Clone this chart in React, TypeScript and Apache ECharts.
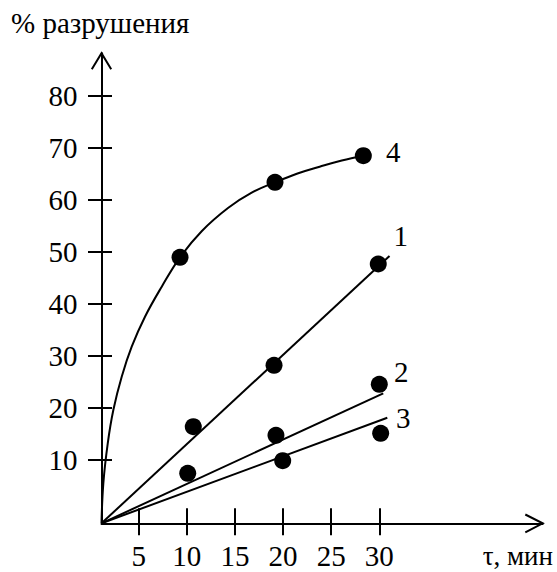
import React, { useEffect, useRef } from "react";
import * as echarts from "echarts";

// Axis ranges (the drawn axes cross slightly off the (0,0) point of the scale)
const X_ORIGIN = 1.13;
const Y_ORIGIN = -2.16;
const X_END = 46.98;
const Y_END = 88.2;

const xTickValues = [5, 10, 15, 20, 25, 30];
const yTickValues = [10, 20, 30, 40, 50, 60, 70, 80];

// Measured points (τ, % разрушения)
const points1 = [
  [10.67, 16.41],
  [19.06, 28.22],
  [29.89, 47.69],
];
const points2 = [
  [10.09, 7.45],
  [19.26, 14.76],
  [30.0, 24.56],
];
const points3 = [
  [19.96, 9.87],
  [30.14, 15.14],
];
const points4 = [
  [9.29, 48.98],
  [19.16, 63.4],
  [28.34, 68.52],
];

// Fitted lines (from the origin of the axes to their ends)
const line1 = [
  [X_ORIGIN, Y_ORIGIN],
  [31.06, 49.23],
];
const line2 = [
  [X_ORIGIN, Y_ORIGIN],
  [30.41, 22.83],
];
const line3 = [
  [X_ORIGIN, Y_ORIGIN],
  [30.83, 18.14],
];
// Curve 4
const curve4 = [
  [X_ORIGIN, Y_ORIGIN],
  [1.32, 5.53],
  [1.78, 13.22],
  [2.36, 19.62],
  [3.23, 26.02],
  [4.27, 31.79],
  [5.65, 37.56],
  [7.39, 43.33],
  [9.29, 48.98],
  [11.54, 54.0],
  [14.31, 58.5],
  [16.74, 61.4],
  [19.16, 63.4],
  [21.5, 65.1],
  [23.8, 66.4],
  [26.1, 67.6],
  [28.34, 68.52],
];

const curveNames = ["1", "2", "3", "4"];

const FONT = "'Times New Roman', 'Liberation Serif', 'DejaVu Serif', serif";
const FS = 29;

export default function App() {
  const ref = useRef<HTMLDivElement>(null);

  useEffect(() => {
    if (!ref.current) return;
    const chart = echarts.init(ref.current, undefined, { renderer: "svg" });

    const lineSeries = (name: string, data: number[][], smooth: any) => ({
      name,
      type: "line",
      data,
      smooth,
      showSymbol: false,
      symbol: "none",
      lineStyle: { color: "#000", width: 2 },
      z: 2,
      silent: true,
    });
    const dotSeries = (name: string, data: number[][]) => ({
      name,
      type: "scatter",
      data,
      symbol: "circle",
      symbolSize: 17,
      itemStyle: { color: "#000", opacity: 1 },
      z: 3,
      silent: true,
    });

    const textStyle = { fontFamily: FONT, fontSize: FS, fill: "#000" };

    chart.setOption({
      animation: false,
      backgroundColor: "#fff",
      textStyle: { fontFamily: FONT },
      grid: { left: 101.5, right: 14.3, top: 53.3, bottom: 48.7 },
      xAxis: [
        {
          type: "value",
          position: "bottom",
          min: X_ORIGIN,
          max: X_END,
          splitLine: { show: false },
          axisLine: { show: true, onZero: false, lineStyle: { color: "#000", width: 2 } },
          axisTick: {
            show: true,
            customValues: xTickValues,
            length: 12,
            lineStyle: { color: "#000", width: 2 },
          },
          axisLabel: {
            customValues: xTickValues,
            margin: 18,
            color: "#000",
            fontFamily: FONT,
            fontSize: FS,
          },
        },
        {
          type: "value",
          position: "bottom",
          min: X_ORIGIN,
          max: X_END,
          splitLine: { show: false },
          axisLine: { show: false, onZero: false },
          axisTick: {
            show: true,
            inside: true,
            customValues: xTickValues,
            length: 15,
            lineStyle: { color: "#000", width: 2 },
          },
          axisLabel: { show: false },
        },
      ],
      yAxis: [
        {
          type: "value",
          position: "left",
          min: Y_ORIGIN,
          max: Y_END,
          splitLine: { show: false },
          axisLine: { show: true, onZero: false, lineStyle: { color: "#000", width: 2 } },
          axisTick: {
            show: true,
            customValues: yTickValues,
            length: 13.5,
            lineStyle: { color: "#000", width: 2 },
          },
          axisLabel: {
            customValues: yTickValues,
            margin: 24,
            color: "#000",
            fontFamily: FONT,
            fontSize: FS,
          },
        },
        {
          type: "value",
          position: "left",
          min: Y_ORIGIN,
          max: Y_END,
          splitLine: { show: false },
          axisLine: { show: false, onZero: false },
          axisTick: {
            show: true,
            inside: true,
            customValues: yTickValues,
            length: 10.5,
            lineStyle: { color: "#000", width: 2 },
          },
          axisLabel: { show: false },
        },
      ],
      series: [
        lineSeries("line " + curveNames[0], line1, false),
        lineSeries("line " + curveNames[1], line2, false),
        lineSeries("line " + curveNames[2], line3, false),
        lineSeries("curve " + curveNames[3], curve4, 0.4),
        dotSeries("points " + curveNames[0], points1),
        dotSeries("points " + curveNames[1], points2),
        dotSeries("points " + curveNames[2], points3),
        dotSeries("points " + curveNames[3], points4),
      ],
      graphic: [
        {
          type: "polyline",
          shape: { points: [[91.8, 69.3], [101.5, 53.3], [111.2, 69.3]] },
          style: { stroke: "#000", lineWidth: 2, fill: "none" },
          silent: true,
        },
        {
          type: "polyline",
          shape: { points: [[525.3, 514.5], [542.7, 523.3], [525.3, 532.3]] },
          style: { stroke: "#000", lineWidth: 2, fill: "none" },
          silent: true,
        },
        {
          type: "text",
          x: 11,
          y: 23,
          style: { ...textStyle, text: "% разрушения", align: "left", verticalAlign: "middle" },
          silent: true,
        },
        {
          type: "text",
          x: 553,
          y: 556,
          style: {
            ...textStyle,
            fontSize: 27,
            text: "τ, мин",
            align: "right",
            verticalAlign: "middle",
          },
          silent: true,
        },
        {
          type: "text",
          x: 386,
          y: 151.7,
          style: { ...textStyle, text: curveNames[3], align: "left", verticalAlign: "middle" },
          silent: true,
        },
        {
          type: "text",
          x: 393.5,
          y: 236,
          style: { ...textStyle, text: curveNames[0], align: "left", verticalAlign: "middle" },
          silent: true,
        },
        {
          type: "text",
          x: 394,
          y: 371.7,
          style: { ...textStyle, text: curveNames[1], align: "left", verticalAlign: "middle" },
          silent: true,
        },
        {
          type: "text",
          x: 396,
          y: 418.3,
          style: { ...textStyle, text: curveNames[2], align: "left", verticalAlign: "middle" },
          silent: true,
        },
      ],
    });

    return () => chart.dispose();
  }, []);

  return (
    <div
      ref={ref}
      style={{ position: "absolute", left: 0, top: 0, width: 557, height: 572 }}
    />
  );
}
